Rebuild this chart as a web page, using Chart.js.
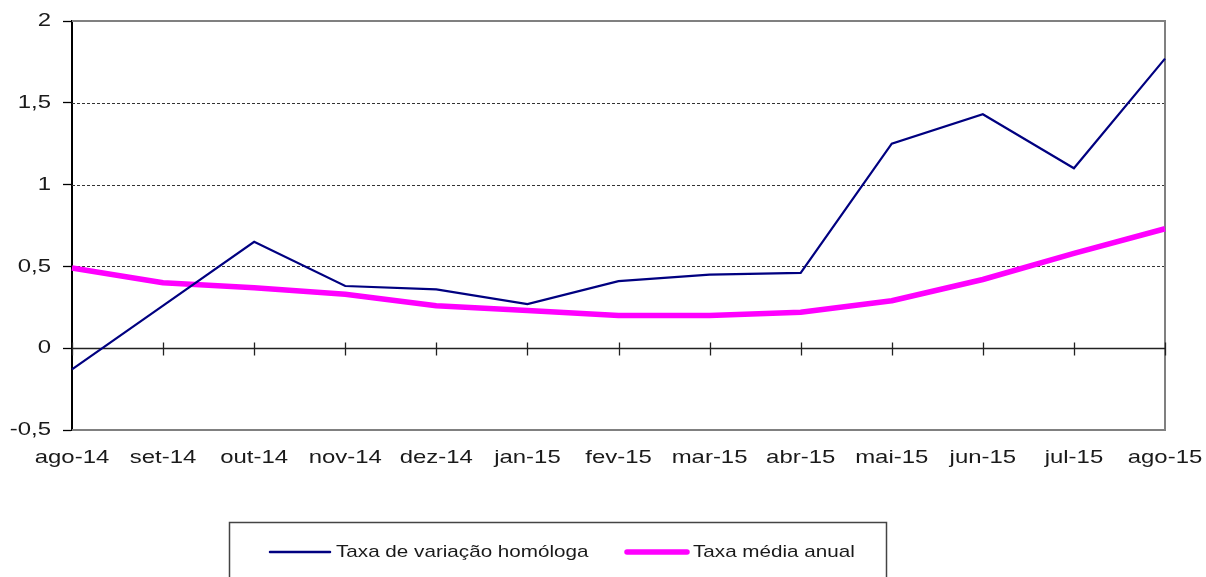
<!DOCTYPE html>
<html>
<head>
<meta charset="utf-8">
<script src="https://cdn.jsdelivr.net/npm/chart.js@4.4.0/dist/chart.umd.min.js"></script>
<style>
  html, body { margin: 0; padding: 0; background: #fff; }
  #wrap { width: 1206px; height: 577px; }
</style>
</head>
<body>
<div id="wrap"><canvas id="Chart" width="1206" height="577"></canvas></div>
<script>
// meses
const labels = ['ago-14', 'set-14', 'out-14', 'nov-14', 'dez-14', 'jan-15', 'fev-15',
  'mar-15', 'abr-15', 'mai-15', 'jun-15', 'jul-15', 'ago-15'];
const homologa = [-0.13, 0.26, 0.65, 0.38, 0.36, 0.27, 0.41, 0.45, 0.46, 1.25, 1.43, 1.10, 1.77];
const mediaAnual = [0.49, 0.40, 0.37, 0.33, 0.26, 0.23, 0.20, 0.20, 0.22, 0.29, 0.42, 0.58, 0.73];
const yTicks = [-0.5, 0, 0.5, 1, 1.5, 2];
const seriesNames = ['Taxa de variação homóloga', 'Taxa média anual'];

const FONT = "'Liberation Sans', Arial, sans-serif";
const SX = 1.26; // o texto original aparece esticado na horizontal

function stretchedText(ctx, txt, x, y, align, size) {
  ctx.save();
  ctx.font = size + 'px ' + FONT;
  ctx.fillStyle = '#1a1a1a';
  ctx.textBaseline = 'middle';
  ctx.translate(x, y);
  ctx.scale(SX, 1);
  ctx.textAlign = align;
  ctx.fillText(txt, 0, 0);
  ctx.restore();
}

const framePlugin = {
  id: 'frame',
  beforeDatasetsDraw(chart) {
    const ctx = chart.ctx;
    const a = chart.chartArea;
    const x = chart.scales.x, y = chart.scales.y;
    ctx.save();
    // linhas de grelha tracejadas
    ctx.strokeStyle = '#333';
    ctx.lineWidth = 1;
    ctx.setLineDash([3, 2]);
    [0.5, 1, 1.5].forEach(v => {
      const py = Math.round(y.getPixelForValue(v)) + 0.5;
      ctx.beginPath(); ctx.moveTo(a.left, py); ctx.lineTo(a.right, py); ctx.stroke();
    });
    ctx.setLineDash([]);
    // moldura cinzenta
    ctx.strokeStyle = '#808080';
    ctx.lineWidth = 2;
    const top = y.getPixelForValue(2), bot = y.getPixelForValue(-0.5);
    ctx.beginPath();
    ctx.moveTo(a.left, top); ctx.lineTo(a.right, top); ctx.lineTo(a.right, bot); ctx.lineTo(a.left, bot);
    ctx.stroke();
    // eixo no zero com marcas
    const y0 = Math.round(y.getPixelForValue(0)) + 0.5;
    ctx.strokeStyle = '#222';
    ctx.lineWidth = 1.3;
    ctx.beginPath(); ctx.moveTo(a.left, y0); ctx.lineTo(a.right, y0); ctx.stroke();
    labels.forEach((l, i) => {
      const px = Math.round(x.getPixelForValue(i)) + 0.5;
      ctx.beginPath(); ctx.moveTo(px, y0 - 6); ctx.lineTo(px, y0 + 7); ctx.stroke();
    });
    ctx.restore();
  },
  afterDraw(chart) {
    const ctx = chart.ctx;
    const x = chart.scales.x, y = chart.scales.y;
    yTicks.forEach(v => {
      stretchedText(ctx, String(v).replace('.', ','), 51, y.getPixelForValue(v), 'right', 19);
    });
    labels.forEach((l, i) => {
      stretchedText(ctx, l, x.getPixelForValue(i), 458, 'center', 19);
    });
    // legenda
    ctx.save();
    ctx.strokeStyle = '#444';
    ctx.lineWidth = 1.5;
    ctx.strokeRect(229.5, 522.5, 657, 80);
    const ds = chart.data.datasets;
    const items = [[270, 336], [627, 693]];
    items.forEach((it, k) => {
      ctx.strokeStyle = ds[k].borderColor;
      ctx.lineWidth = k === 0 ? 2.5 : 5.5;
      ctx.lineCap = 'round';
      ctx.beginPath(); ctx.moveTo(it[0], 552); ctx.lineTo(it[0] + 60, 552); ctx.stroke();
      stretchedText(ctx, seriesNames[k], it[1], 552, 'left', 16.4);
    });
    ctx.restore();
  }
};

new Chart(document.getElementById('Chart').getContext('2d'), {
  type: 'line',
  data: {
    labels: labels,
    datasets: [
      {
        label: seriesNames[0],
        data: homologa,
        borderColor: '#000080',
        borderWidth: 2.2,
        pointRadius: 0,
        tension: 0,
        borderJoinStyle: 'miter'
      },
      {
        label: seriesNames[1],
        data: mediaAnual,
        borderColor: '#ff00ff',
        borderWidth: 5.5,
        pointRadius: 0,
        tension: 0,
        borderJoinStyle: 'round'
      }
    ]
  },
  options: {
    responsive: false,
    animation: false,
    layout: { padding: { left: 0, right: 41, top: 21, bottom: 0 } },
    plugins: { legend: { display: false }, tooltip: { enabled: false } },
    scales: {
      x: {
        offset: false,
        ticks: { display: false },
        grid: { display: false },
        border: { display: false },
        afterFit: s => { s.height = 147; }
      },
      y: {
        min: -0.5,
        max: 2,
        ticks: { display: false, stepSize: 0.5 },
        grid: { drawOnChartArea: false, drawTicks: true, tickLength: 9, tickColor: '#000', tickWidth: 1.3 },
        border: { display: true, color: '#000', width: 2 },
        afterFit: s => { s.width = 72; }
      }
    }
  },
  plugins: [framePlugin]
});
</script>
</body>
</html>
